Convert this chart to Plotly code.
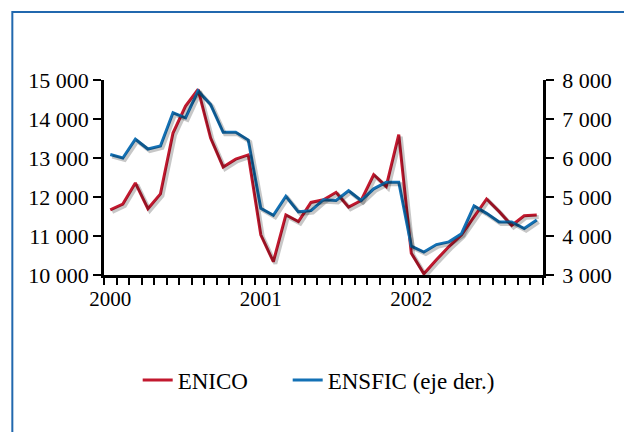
import plotly.graph_objects as go

# Monthly index, January 2000 .. November 2002
months = list(range(35))
year_ticks = [0, 12, 24]
year_labels = ["2000", "2001", "2002"]

# ENICO (left axis)
enico = [11670, 11820, 12360, 11700, 12080, 13640, 14330, 14760, 13510, 12770, 12970, 13080,
         11030, 10340, 11540, 11370, 11860, 11930, 12120, 11740, 11910, 12570, 12270, 13600,
         10560, 10030, 10390, 10730, 11030, 11500, 11950, 11630, 11270, 11520, 11540]
# ENSFIC (right axis)
ensfic = [6090, 6000, 6480, 6230, 6310, 7160, 7030, 7720, 7370, 6660, 6660, 6460,
          4710, 4530, 5020, 4620, 4650, 4930, 4910, 5160, 4910, 5210, 5380, 5380,
          3740, 3590, 3780, 3850, 4060, 4770, 4580, 4360, 4360, 4190, 4410]

left_ticks = [10000, 11000, 12000, 13000, 14000, 15000]
left_labels = ["10 000", "11 000", "12 000", "13 000", "14 000", "15 000"]
right_ticks = [3000, 4000, 5000, 6000, 7000, 8000]
right_labels = ["3 000", "4 000", "5 000", "6 000", "7 000", "8 000"]

RED = "#C2182E"
BLUE = "#1371B5"
FRAME = "#2168AE"
SHADOW = "rgba(0,0,0,0.22)"
FONT = "'Liberation Serif', 'Times New Roman', Times, serif"

W, H = 624, 432
ML, MR, MT, MB = 104, 75, 80, 155
pw = W - ML - MR
ph = H - MT - MB
ex = 2 / pw   # shadow offset, right
ey = 2 / ph   # shadow offset, down

fig = go.Figure()

# soft drop shadows drawn on slightly offset hidden axes
fig.add_trace(go.Scatter(x=months, y=enico, mode="lines", xaxis="x3", yaxis="y3",
                         line=dict(color=SHADOW, width=4), showlegend=False, hoverinfo="skip"))
fig.add_trace(go.Scatter(x=months, y=ensfic, mode="lines", xaxis="x3", yaxis="y4",
                         line=dict(color=SHADOW, width=4), showlegend=False, hoverinfo="skip"))

fig.add_trace(go.Scatter(x=months, y=enico, mode="lines", name="ENICO",
                         legendwidth=105, line=dict(color=RED, width=3)))
fig.add_trace(go.Scatter(x=months, y=ensfic, mode="lines", name="ENSFIC (eje der.)",
                         yaxis="y2", line=dict(color=BLUE, width=3)))

xr = [-0.5, len(months) - 0.5]
boundaries = [k - 0.5 for k in range(len(months) + 1)]

fig.update_layout(
    width=W, height=H,
    margin=dict(l=ML, r=MR, t=MT, b=MB),
    paper_bgcolor="white", plot_bgcolor="rgba(0,0,0,0)",
    font=dict(family=FONT, color="black"),
    xaxis=dict(domain=[0, 1 - ex], range=xr, anchor="y",
               tickvals=year_ticks, ticktext=year_labels, ticks="",
               ticklabelstandoff=3,
               tickfont=dict(size=21, family=FONT), showgrid=False, zeroline=False,
               showline=True, linecolor="black", linewidth=2.5,
               minor=dict(tickvals=boundaries, ticks="outside", ticklen=7,
                          tickwidth=1.5, tickcolor="black", showgrid=False)),
    yaxis=dict(domain=[ey, 1], range=[10000, 15000], anchor="x",
               tickvals=left_ticks, ticktext=left_labels,
               ticks="outside", ticklen=8, tickwidth=2, tickcolor="black",
               tickfont=dict(size=22, family=FONT), showgrid=False, zeroline=False,
               showline=True, linecolor="black", linewidth=2.5),
    yaxis2=dict(overlaying="y", side="right", range=[3000, 8000], anchor="x",
                tickvals=right_ticks, ticktext=right_labels,
                ticks="outside", ticklen=8, tickwidth=2, tickcolor="black",
                ticklabelstandoff=4,
                tickfont=dict(size=22, family=FONT), showgrid=False, zeroline=False,
                showline=True, linecolor="black", linewidth=2.5),
    xaxis3=dict(domain=[ex, 1], range=xr, anchor="y3", visible=False),
    yaxis3=dict(domain=[0, 1 - ey], range=[10000, 15000], anchor="x3", visible=False),
    yaxis4=dict(overlaying="y3", range=[3000, 8000], anchor="x3", visible=False),
    legend=dict(orientation="h", x=(138 - ML) / pw, xanchor="left",
                y=(MT + ph - 380) / ph, yanchor="middle",
                font=dict(size=23, family=FONT), bgcolor="rgba(0,0,0,0)"),
    shapes=[dict(type="rect", xref="paper", yref="paper",
                 x0=(11.5 - ML) / pw, x1=(W + 20 - ML) / pw,
                 y0=(MT + ph - (H + 20)) / ph, y1=(MT + ph - 12) / ph,
                 line=dict(color=FRAME, width=2), fillcolor="rgba(0,0,0,0)")],
)

fig.write_html("out.html")
